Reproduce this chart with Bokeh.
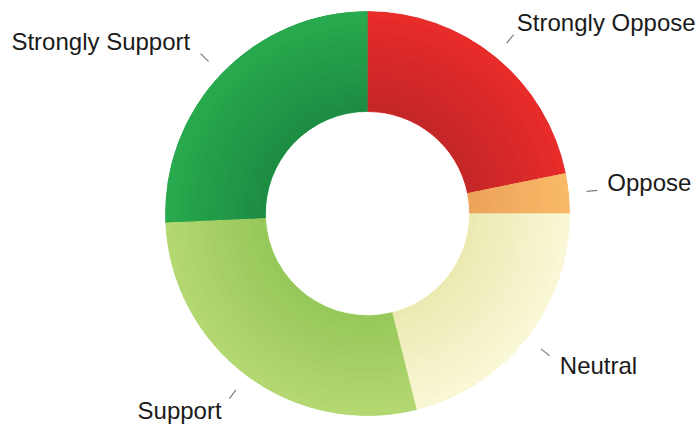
import numpy as np
from bokeh.plotting import figure
from bokeh.models import ColumnDataSource
from bokeh.core.properties import value
from bokeh.embed import file_html
from bokeh.resources import INLINE

# data (clockwise from 12 o'clock)
categories = ["Strongly Oppose", "Oppose", "Neutral", "Support", "Strongly Support"]
shares = [21.8, 3.2, 21.1, 28.2, 25.7]
colors = ["#dc2a2a", "#f5b062", "#f6f3c6", "#a8d46c", "#24a049"]

# styling: shading (inner -> outer) for each slice
inner_cols = ["#c42628", "#eca25a", "#ebe9b2", "#95c759", "#1d8c43"]
outer_cols = ["#e92c2a", "#f9ba68", "#faf8d6", "#b4d872", "#29aa4d"]

W, H = 696, 426
cx, cy = 367, 213
r_in, r_out = 102, 202


def hex2rgb(h):
    h = h.lstrip("#")
    return np.array([int(h[i:i + 2], 16) for i in (0, 2, 4)], dtype=float)


def rgb2hex(c):
    return "#%02x%02x%02x" % tuple(int(round(v)) for v in c)


vals = np.array(shares, dtype=float)
frac = vals / vals.sum()
cum = np.concatenate([[0], np.cumsum(frac)]) * 2 * np.pi  # clockwise from top
start_math = np.pi / 2 - cum[:-1]
end_math = np.pi / 2 - cum[1:]
mid = (cum[:-1] + cum[1:]) / 2

p = figure(width=W, height=H, x_range=(0, W), y_range=(0, H), min_border=0,
           toolbar_location=None, output_backend="svg")
p.axis.visible = False
p.grid.visible = False
p.outline_line_color = None
p.background_fill_color = "white"

# base slices
src = ColumnDataSource(dict(start=start_math, end=end_math, color=colors, cat=categories))
p.annular_wedge(x=cx, y=cy, inner_radius=r_in, outer_radius=r_out,
                start_angle="start", end_angle="end", direction="clock",
                fill_color="color", line_color="color", line_width=0.5, source=src,
                inner_radius_units="screen", outer_radius_units="screen")

# radial shading rings drawn over each slice
n = 14
edges = np.linspace(r_in, r_out, n + 1)
rs, re_, st, en, cl = [], [], [], [], []
for i in range(len(categories)):
    c0, c1 = hex2rgb(inner_cols[i]), hex2rgb(outer_cols[i])
    for k in range(n):
        t = (k + 0.5) / n
        rs.append(edges[k])
        re_.append(min(edges[k + 1] + 0.6, r_out))
        st.append(start_math[i])
        en.append(end_math[i])
        cl.append(rgb2hex(c0 + (c1 - c0) * t))
ring = ColumnDataSource(dict(ri=rs, ro=re_, start=st, end=en, color=cl))
p.annular_wedge(x=cx, y=cy, inner_radius="ri", outer_radius="ro",
                start_angle="start", end_angle="end", direction="clock",
                fill_color="color", line_color=None, source=ring,
                inner_radius_units="screen", outer_radius_units="screen")

# leader lines
l0, l1 = 220, 231
xs = [[cx + l0 * np.sin(a), cx + l1 * np.sin(a)] for a in mid]
ys = [[cy + l0 * np.cos(a), cy + l1 * np.cos(a)] for a in mid]
p.multi_line(xs=xs, ys=ys, line_color="#808080", line_width=1.2)

# labels
rl = 244
label_dx = [-5, -3, 0, 0, -1]   # pixel nudges
label_dy = [2, 7, -2, -1, 3]    # pixel nudges (up positive)
lx = cx + rl * np.sin(mid) + np.array(label_dx)
ly = cy + rl * np.cos(mid) + np.array(label_dy)
align = ["left" if np.sin(a) > 0 else "right" for a in mid]
lsrc = ColumnDataSource(dict(x=lx, y=ly, t=categories, align=align))
p.text(x="x", y="y", text="t", text_align="align", text_baseline="middle",
       text_font=value("Liberation Sans"), text_font_size="24px",
       text_color="#1a1a1a", source=lsrc)

open("out.html", "w").write(file_html(p, INLINE))
